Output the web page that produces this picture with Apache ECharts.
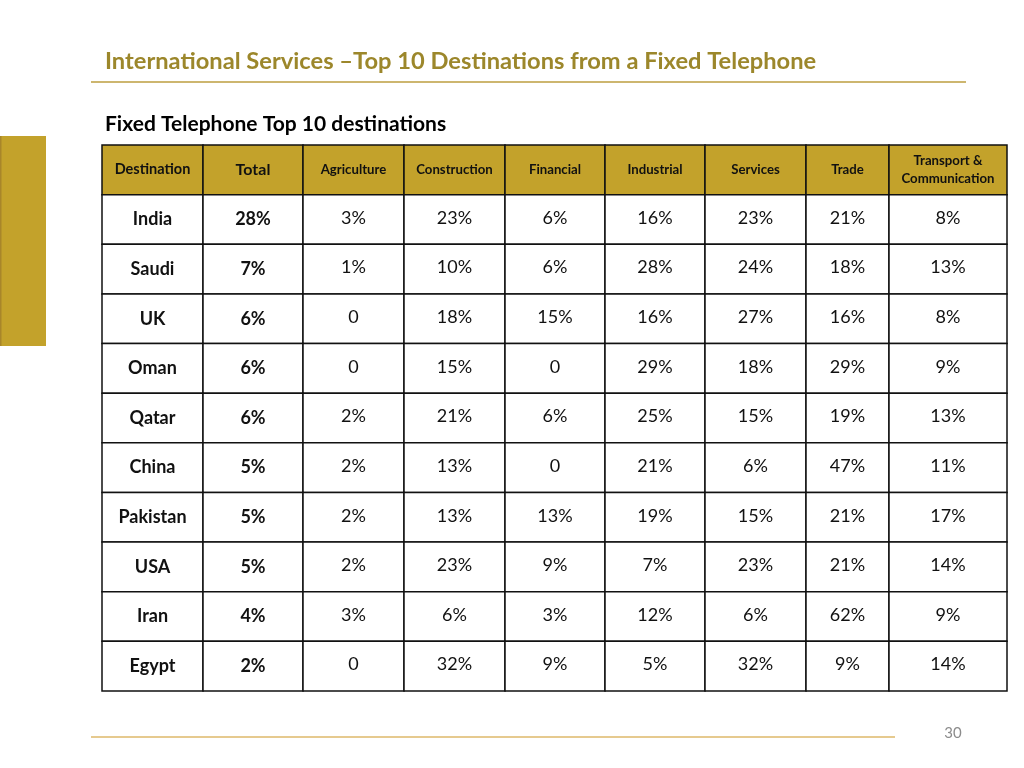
<!DOCTYPE html>
<html><head><meta charset="utf-8">
<script src="https://cdn.jsdelivr.net/npm/echarts@6/dist/echarts.min.js"></script>
<style>html,body{margin:0;padding:0;background:#fff}#c{width:1024px;height:768px}</style>
</head><body><div id="c"></div>
<script>
const columns = ['Destination','Total','Agriculture','Construction','Financial','Industrial','Services','Trade','Transport &\nCommunication'];
const destinations = ['India','Saudi','UK','Oman','Qatar','China','Pakistan','USA','Iran','Egypt'];
const total = [28,7,6,6,6,5,5,5,4,2];
const agriculture = [3,1,0,0,2,2,2,2,3,0];
const construction = [23,10,18,15,21,13,13,23,6,32];
const financial = [6,6,15,0,6,0,13,9,3,9];
const industrial = [16,28,16,29,25,21,19,7,12,5];
const services = [23,24,27,18,15,6,15,23,6,32];
const trade = [21,18,16,29,19,47,21,21,62,9];
const transport = [8,13,8,9,13,11,17,14,9,14];

const valueCols = [total, agriculture, construction, financial, industrial, services, trade, transport];
const FONT = 'Lato, "Open Sans", sans-serif';
const colWidths = [101,100,101,101,100,100,101,83,118];
const headerSizes = [14.5,16,13.2,13.2,13.2,13.2,13.2,13.2,13.2];
const GOLD = '#C3A22B';

function fmt(v){ return v === 0 ? '0' : v + '%'; }

const cells = [];
for (let r = 0; r <= destinations.length; r++) {
  for (let c = 0; c < columns.length; c++) cells.push([c, r]);
}

const chart = echarts.init(document.getElementById('c'), null, {renderer:'canvas'});
chart.setOption({
  animation: false,
  grid: {left: 102, top: 145, width: 905, height: 546},
  xAxis: {type: 'value', min: 0, max: 905, show: false},
  yAxis: {type: 'category', inverse: true, data: ['header'].concat(destinations), show: false},
  graphic: [
    {type:'rect', shape:{x:0,y:136,width:46,height:210}, style:{fill:GOLD}},
    {type:'rect', shape:{x:0,y:136,width:1.5,height:210}, style:{fill:'#A8862A'}},
    {type:'line', shape:{x1:91,y1:82,x2:966,y2:82}, style:{stroke:'#CDB66F', lineWidth:2}},
    {type:'line', shape:{x1:91,y1:737,x2:895,y2:737}, style:{stroke:'#E6CA8F', lineWidth:2}},
    {type:'text', x:105, y:61, style:{text:'International Services \u2013Top 10 Destinations from a Fixed Telephone', fill:'#9C872B', font:'bold 23.7px ' + FONT, textVerticalAlign:'middle'}},
    {type:'text', x:105, y:124, style:{text:'Fixed Telephone Top 10 destinations', fill:'#000', font:'bold 21px ' + FONT, textVerticalAlign:'middle'}},
    {type:'text', x:953, y:733, style:{text:'30', fill:'#8C8C8C', font:'15px ' + FONT, textAlign:'center', textVerticalAlign:'middle'}}
  ],
  series: [{
    type: 'custom',
    coordinateSystem: 'cartesian2d',
    data: cells,
    renderItem: function(params, api){
      const c = api.value(0), r = api.value(1);
      let x0 = 0;
      for (let i = 0; i < c; i++) x0 += colWidths[i];
      const p0 = api.coord([x0, r]);
      const p1 = api.coord([x0 + colWidths[c], r]);
      const h = api.size([0, 1])[1];
      let text, font;
      if (r === 0) {
        text = columns[c];
        font = 'bold ' + headerSizes[c] + 'px ' + FONT;
      } else if (c === 0) {
        text = destinations[r-1];
        font = 'bold 18px ' + FONT;
      } else {
        text = fmt(valueCols[c-1][r-1]);
        font = (c === 1 ? 'bold ' : '') + '18px ' + FONT;
      }
      return {
        type: 'group',
        children: [
          {type:'rect', shape:{x:p0[0], y:p0[1]-h/2, width:p1[0]-p0[0], height:h},
           style:{fill: r === 0 ? GOLD : '#fff', stroke:'#111', lineWidth:1.5}},
          {type:'text', style:{text:text, x:(p0[0]+p1[0])/2, y:p0[1] - (r>0 && c>1 ? 1.5 : 0), font:font, fill:'#111',
            textAlign:'center', textVerticalAlign:'middle', lineHeight: 18}}
        ]
      };
    }
  }]
});
</script>
</body></html>
